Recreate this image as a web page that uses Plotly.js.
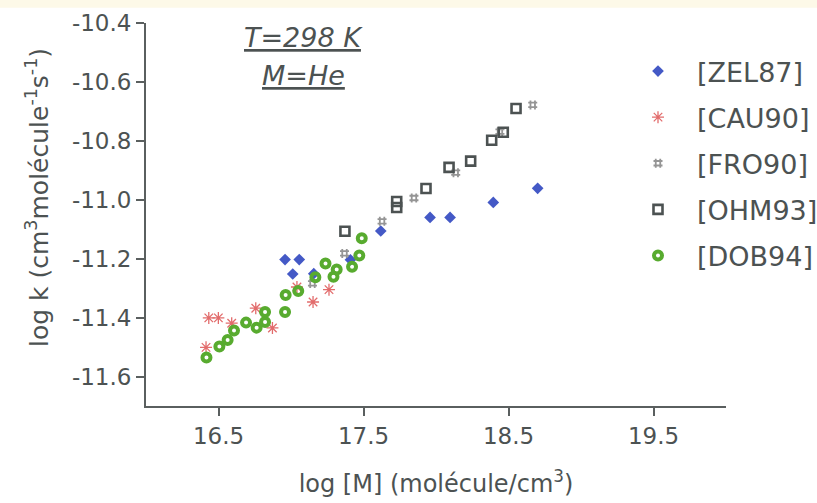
<!DOCTYPE html>
<html>
<head>
<meta charset="utf-8">
<script src="https://cdn.plot.ly/plotly-3.0.1.min.js"></script>
<style>
  html, body { margin: 0; padding: 0; background: #ffffff; }
  #chart { width: 817px; height: 503px; }
</style>
</head>
<body>
<div id="chart"></div>
<script>
// Rate coefficient vs. bath-gas density, M = He, T = 298 K
// log [M] (molecule/cm3) and log k for each data source

const zel87X = [16.959, 17.057, 17.012, 17.157, 17.410, 17.619, 17.959, 18.097, 18.395, 18.701];
const zel87Y = [-11.203, -11.203, -11.252, -11.251, -11.204, -11.106, -11.060, -11.060, -11.009, -10.961];

const cau90X = [16.414, 16.433, 16.499, 16.591, 16.757, 16.872, 17.041, 17.152, 17.262];
const cau90Y = [-11.501, -11.401, -11.401, -11.419, -11.368, -11.435, -11.296, -11.347, -11.305];

const fro90X = [17.148, 17.369, 17.628, 17.848, 18.136, 18.441, 18.667];
const fro90Y = [-11.284, -11.182, -11.073, -10.994, -10.908, -10.769, -10.678];

const ohm93X = [17.372, 17.729, 17.729, 17.931, 18.090, 18.239, 18.384, 18.464, 18.552];
const ohm93Y = [-11.107, -11.006, -11.026, -10.962, -10.890, -10.869, -10.798, -10.771, -10.690];

const dob94X = [16.417, 16.506, 16.563, 16.607, 16.690, 16.763, 16.821, 16.821, 16.959,
                16.963, 17.050, 17.168, 17.238, 17.293, 17.315, 17.421, 17.471, 17.488];
const dob94Y = [-11.535, -11.498, -11.476, -11.444, -11.417, -11.434, -11.415, -11.381, -11.381,
                -11.323, -11.310, -11.263, -11.216, -11.261, -11.237, -11.227, -11.189, -11.131];

const xTicks = [16.5, 17.5, 18.5, 19.5];
const yTicks = [-10.4, -10.6, -10.8, -11.0, -11.2, -11.4, -11.6];

const INK = '#4c5252';
const FONT = 'DejaVu Sans, Arial, sans-serif';

function series(name, x, y, marker, group) {
  return { type: 'scatter', mode: 'markers', name: name, x: x, y: y,
           marker: marker, legendgroup: group, cliponaxis: false };
}

const traces = [
  series('[ZEL87]', zel87X, zel87Y,
         { symbol: 'diamond', size: 9, color: '#4459c6', line: { width: 0 } }, 'a'),
  series('[CAU90]', cau90X, cau90Y,
         { symbol: 'asterisk-open', size: 10, color: '#e26c6c', line: { width: 1.3, color: '#e26c6c' } }, 'b'),
  series('[FRO90]', fro90X, fro90Y,
         { symbol: 'hash-open', size: 9, color: '#959595', line: { width: 1.8, color: '#959595' } }, 'c'),
  series('[OHM93]', ohm93X, ohm93Y,
         { symbol: 'square-open', size: 9, color: INK, line: { width: 2.6, color: INK } }, 'd'),
  series('[DOB94]', dob94X, dob94Y,
         { symbol: 'circle-open', size: 8, color: '#58ab2f', line: { width: 4, color: '#58ab2f' } }, 'e')
];

const layout = {
  width: 817, height: 503,
  margin: { l: 146, r: 91, t: 23, b: 97, pad: 0, autoexpand: false },
  paper_bgcolor: '#ffffff', plot_bgcolor: '#ffffff',
  font: { family: FONT, color: INK },
  showlegend: true,
  legend: {
    xref: 'container', yref: 'container',
    x: 619 / 817, y: 1 - 47 / 503, xanchor: 'left', yanchor: 'top',
    font: { family: FONT, size: 27, color: INK },
    itemwidth: 68, tracegroupgap: 8, bgcolor: 'rgba(0,0,0,0)', borderwidth: 0
  },
  xaxis: {
    range: [16, 20], tickvals: xTicks, ticktext: xTicks.map(v => v.toFixed(1)),
    showgrid: false, zeroline: false, showline: true, linecolor: '#5a5f5f', linewidth: 2,
    ticks: 'outside', ticklen: 8, tickwidth: 2, tickcolor: '#5a5f5f',
    tickfont: { family: FONT, size: 23, color: INK },
    title: { text: 'log [M] (molécule/cm<sup>3</sup>)', font: { family: FONT, size: 24, color: INK }, standoff: 28 }
  },
  yaxis: {
    range: [-11.7, -10.4], tickvals: yTicks, ticktext: yTicks.map(v => v.toFixed(1)),
    showgrid: false, zeroline: false, showline: true, linecolor: '#5a5f5f', linewidth: 2,
    ticks: 'outside', ticklen: 8, tickwidth: 2, tickcolor: '#5a5f5f',
    tickfont: { family: FONT, size: 23, color: INK }
  },
  shapes: [
    { type: 'rect', xref: 'paper', yref: 'paper', x0: -0.3, x1: 1.2, y0: 1.04, y1: 1.07,
      fillcolor: '#fdf9e8', line: { width: 0 }, layer: 'below' }
  ],
  annotations: [
    // y-axis title, placed beside the tick labels
    { xref: 'paper', yref: 'paper', x: (38 - 146) / 580, y: 1 - (198 - 23) / 383,
      text: 'log k (cm<sup>3</sup>molécule<sup>-1</sup>s<sup>-1</sup>)', textangle: -90,
      showarrow: false, xanchor: 'center', yanchor: 'middle',
      font: { family: FONT, size: 25, color: INK } },
    { xref: 'paper', yref: 'paper', x: (303 - 146) / 580, y: 1 - (38 - 23) / 383,
      text: '<u><i>T=298 K</i></u>', showarrow: false, xanchor: 'center', yanchor: 'middle',
      font: { family: FONT, size: 27, color: INK } },
    { xref: 'paper', yref: 'paper', x: (303 - 146) / 580, y: 1 - (75 - 23) / 383,
      text: '<u><i>M=He</i></u>', showarrow: false, xanchor: 'center', yanchor: 'middle',
      font: { family: FONT, size: 27, color: INK } }
  ]
};

Plotly.newPlot('chart', traces, layout, { displayModeBar: false, staticPlot: true });
</script>
</body>
</html>
